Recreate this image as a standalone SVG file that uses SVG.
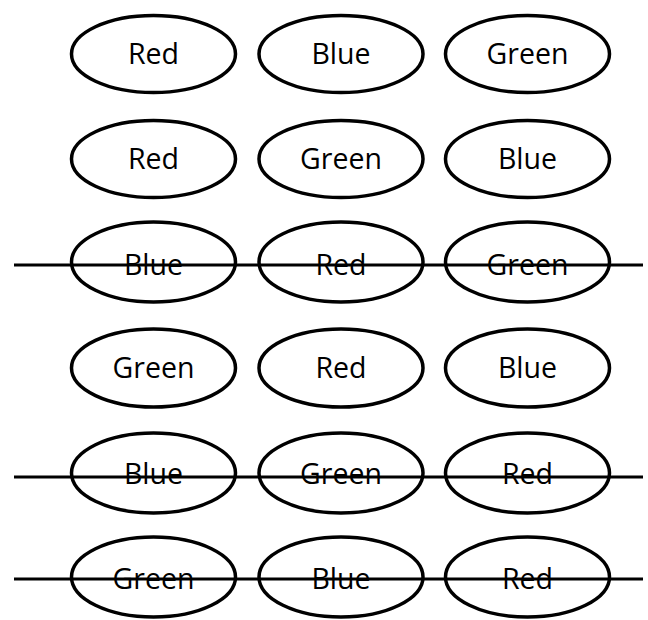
<svg xmlns="http://www.w3.org/2000/svg" width="648" height="620" viewBox="0 0 648 620">
<style>
.n ellipse{fill:none;stroke:#000;stroke-width:3.5}
.n text{font-family:"Open Sans","DejaVu Sans",sans-serif;font-size:28.5px;font-weight:500;fill:#000;text-anchor:middle}
.x line{stroke:#000;stroke-width:3}
</style>
<rect width="648" height="620" fill="#fff"/>
<g id="r1c1" class="n"><ellipse cx="153.5" cy="54" rx="82" ry="38.5"/><text x="153.5" y="64">Red</text></g>
<g id="r1c2" class="n"><ellipse cx="341" cy="54" rx="82" ry="38.5"/><text x="341" y="64">Blue</text></g>
<g id="r1c3" class="n"><ellipse cx="527.5" cy="54" rx="82" ry="38.5"/><text x="527.5" y="64">Green</text></g>
<g id="r2c1" class="n"><ellipse cx="153.5" cy="159" rx="82" ry="38.5"/><text x="153.5" y="169">Red</text></g>
<g id="r2c2" class="n"><ellipse cx="341" cy="159" rx="82" ry="38.5"/><text x="341" y="169">Green</text></g>
<g id="r2c3" class="n"><ellipse cx="527.5" cy="159" rx="82" ry="38.5"/><text x="527.5" y="169">Blue</text></g>
<g id="r3c1" class="n"><ellipse cx="153.5" cy="262" rx="82" ry="40"/><text x="153.5" y="275">Blue</text></g>
<g id="r3c2" class="n"><ellipse cx="341" cy="262" rx="82" ry="40"/><text x="341" y="275">Red</text></g>
<g id="r3c3" class="n"><ellipse cx="527.5" cy="262" rx="82" ry="40"/><text x="527.5" y="275">Green</text></g>
<g id="r4c1" class="n"><ellipse cx="153.5" cy="368" rx="82" ry="39"/><text x="153.5" y="378">Green</text></g>
<g id="r4c2" class="n"><ellipse cx="341" cy="368" rx="82" ry="39"/><text x="341" y="378">Red</text></g>
<g id="r4c3" class="n"><ellipse cx="527.5" cy="368" rx="82" ry="39"/><text x="527.5" y="378">Blue</text></g>
<g id="r5c1" class="n"><ellipse cx="153.5" cy="473" rx="82" ry="40"/><text x="153.5" y="484">Blue</text></g>
<g id="r5c2" class="n"><ellipse cx="341" cy="473" rx="82" ry="40"/><text x="341" y="484">Green</text></g>
<g id="r5c3" class="n"><ellipse cx="527.5" cy="473" rx="82" ry="40"/><text x="527.5" y="484">Red</text></g>
<g id="r6c1" class="n"><ellipse cx="153.5" cy="577" rx="82" ry="40"/><text x="153.5" y="589">Green</text></g>
<g id="r6c2" class="n"><ellipse cx="341" cy="577" rx="82" ry="40"/><text x="341" y="589">Blue</text></g>
<g id="r6c3" class="n"><ellipse cx="527.5" cy="577" rx="82" ry="40"/><text x="527.5" y="589">Red</text></g>
<g id="strikes" class="x">
<line x1="14" y1="265" x2="643" y2="265"/>
<line x1="14" y1="477" x2="643" y2="477"/>
<line x1="14" y1="579" x2="643" y2="579"/>
</g>
</svg>
